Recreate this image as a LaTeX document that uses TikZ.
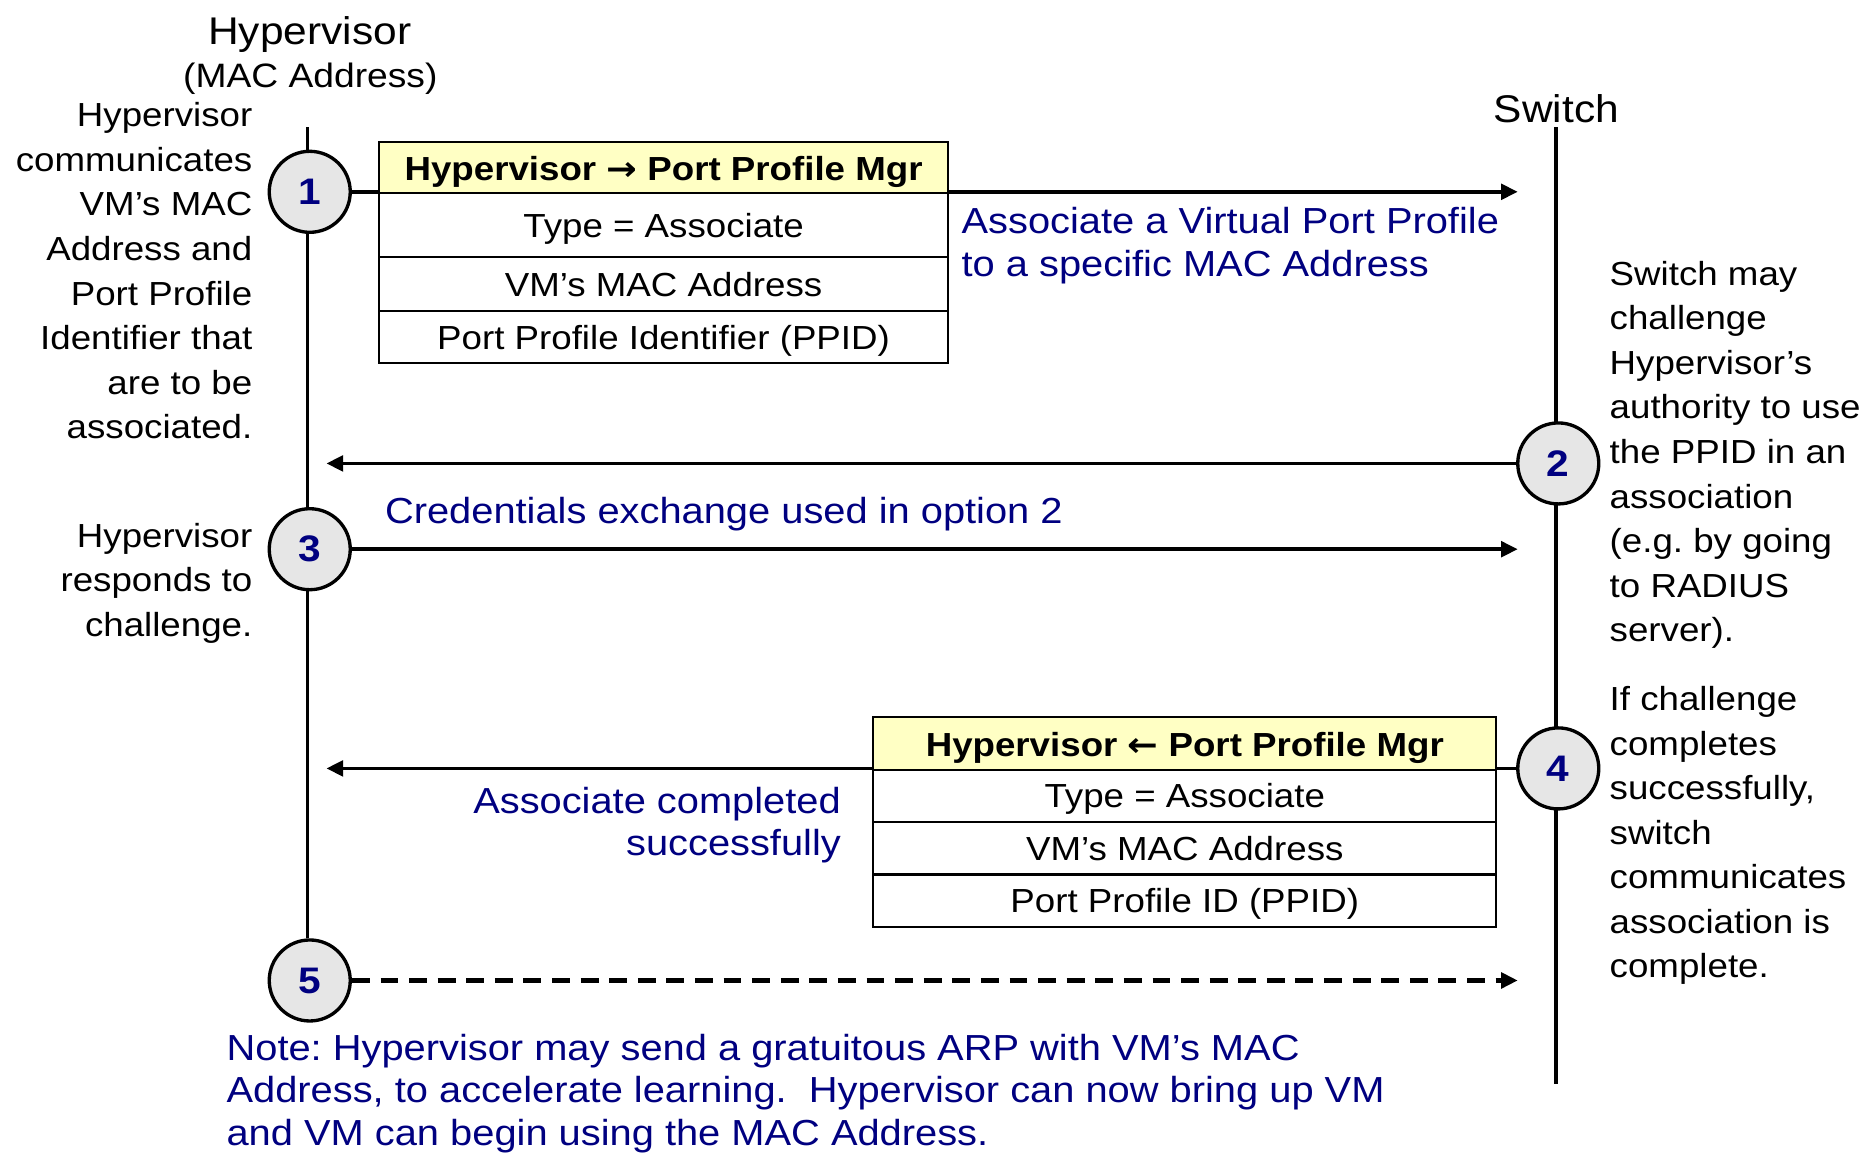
\documentclass[tikz,border=0pt]{standalone}
\usepackage{fontspec}
\setmainfont{Liberation Sans}[FakeStretch=1.1]
\newfontfamily\arrowfont{DejaVu Sans}[FakeStretch=1.1]
\usetikzlibrary{arrows.meta,backgrounds}
\definecolor{navyblue}{RGB}{0,0,128}
\definecolor{hdrfill}{RGB}{255,255,196}
\definecolor{stepfill}{RGB}{230,230,230}
\frenchspacing

\begin{document}
\begin{tikzpicture}[x=1pt,y=-1pt,
  bodytext/.style={font=\fontsize{28}{37.4}\selectfont, inner sep=0pt},
  bluetext/.style={font=\fontsize{30.4}{35.5}\selectfont, text=navyblue, inner sep=0pt},
  stepcircle/.style={circle, draw, line width=2.8pt, fill=stepfill, minimum size=68pt,
    inner sep=0pt, font=\fontsize{31}{32}\selectfont\bfseries, text=navyblue},
  msghead/.style={draw, line width=1.8pt, fill=hdrfill, minimum width=#1,
    font=\fontsize{28}{30}\selectfont\bfseries, inner sep=0pt,
    text height=25pt, text depth=3pt},
  msgrow/.style={draw, line width=1.8pt, fill=white, minimum width=#1,
    font=\fontsize{28}{30}\selectfont, inner sep=0pt,
    text height=24pt, text depth=4pt},
  lifeline/.style={line width=3pt},
  msg/.style={line width=3.2pt, -{Triangle[length=14pt,width=13pt]}},
]
\useasboundingbox (0,0) rectangle (1568,967);

% column headings
\node[font=\fontsize{32.4}{36}\selectfont, inner sep=0pt, anchor=north] (hvtitle) at (260,14) {Hypervisor};
\node[font=\fontsize{28.4}{30}\selectfont, inner sep=0pt, anchor=north] (hvsub) at (260.5,53) {(MAC Address)};
\node[font=\fontsize{32.4}{36}\selectfont, inner sep=0pt, anchor=north] (swtitle) at (1306.5,79) {Switch};

% lifeline end points and arrow tips
\coordinate (hvtop) at (258,107);
\coordinate (swtop) at (1306,107);
\coordinate (swbot) at (1306,910);
\coordinate (hvtip) at (274,0);
\coordinate (swtip) at (1274,0);

% numbered steps
\node[stepcircle] (c1) at (260,161) {1};
\node[stepcircle] (c2) at (1308,389) {2};
\node[stepcircle] (c3) at (260,461) {3};
\node[stepcircle] (c4) at (1308,645) {4};
\node[stepcircle] (c5) at (260,823) {5};

% message 1: hypervisor to port profile manager
\node[msghead=478pt, minimum height=43pt] (m1h) at (557,140.5) {Hypervisor {\arrowfont\bfseries →} Port Profile Mgr};
\node[msgrow=478pt, minimum height=54pt] (m1a) at (557,189) {Type = Associate};
\node[msgrow=478pt, minimum height=45pt] (m1b) at (557,238.5) {VM’s MAC Address};
\node[msgrow=478pt, minimum height=44pt] (m1c) at (557,283) {Port Profile Identifier (PPID)};

% message 4: port profile manager back to hypervisor
\node[msghead=523pt, minimum height=44pt] (m4h) at (994.5,624) {Hypervisor {\arrowfont\bfseries ←} Port Profile Mgr};
\node[msgrow=523pt, minimum height=44pt] (m4a) at (994.5,668) {Type = Associate};
\node[msgrow=523pt, minimum height=44pt] (m4b) at (994.5,712) {VM’s MAC Address};
\node[msgrow=523pt, minimum height=44pt] (m4c) at (994.5,756) {Port Profile ID (PPID)};

\begin{scope}[on background layer]
  \draw[lifeline] (hvtop) -- (hvtop |- c5.north);
  \draw[lifeline] (swtop) -- (swbot);
  \draw[msg] (c1.east) -- (c1.east -| swtip);
  \draw[msg] (c2.west) -- (c2.west -| hvtip);
  \draw[msg] (c3.east) -- (c3.east -| swtip);
  \draw[msg] (c4.west) -- (c4.west -| hvtip);
  \draw[msg, line width=3.6pt, dash pattern=on 15pt off 9pt] (c5.east) -- (c5.east -| swtip);
\end{scope}

% side notes
\node[bodytext, align=right, anchor=north east] (n1) at (212,86)
  {Hypervisor\\communicates\\VM’s MAC\\Address and\\Port Profile\\Identifier that\\are to be\\associated.};
\node[bodytext, align=right, anchor=north east] (n3) at (212,439)
  {Hypervisor\\responds to\\challenge.};
\node[bodytext, align=left, anchor=north west] (n2) at (1351,219)
  {Switch may\\challenge\\Hypervisor’s\\authority to use\\the PPID in an\\association\\(e.g. by going\\to RADIUS\\server).};
\node[bodytext, align=left, anchor=north west] (n4) at (1351,576)
  {If challenge\\completes\\successfully,\\switch\\communicates\\association is\\complete.};

% message captions
\node[bluetext, align=left, anchor=north west] (l1) at (807,174)
  {Associate a Virtual Port Profile\\to a specific MAC Address};
\node[bluetext, anchor=north west] (l3) at (323,417) {Credentials exchange used in option 2};
\node[bluetext, align=right, anchor=north east] (l4) at (706,660.5)
  {Associate completed\\successfully};
\node[bluetext, align=left, anchor=north west] (l5) at (190,868)
  {Note: Hypervisor may send a gratuitous ARP with VM’s MAC\\Address, to accelerate learning.\ \ Hypervisor can now bring up VM\\and VM can begin using the MAC Address.};
\end{tikzpicture}
\end{document}
